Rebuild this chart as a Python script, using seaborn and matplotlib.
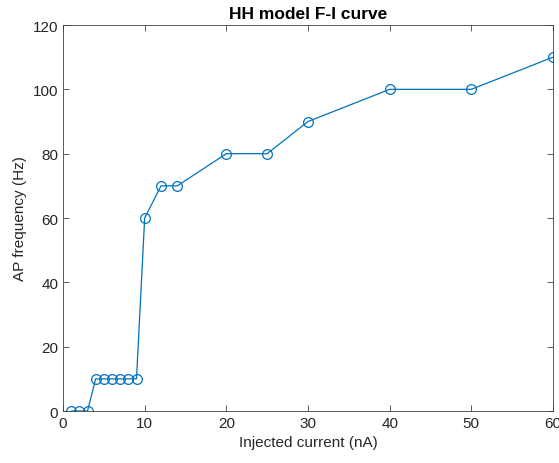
import matplotlib
matplotlib.use("Agg")
import matplotlib.pyplot as plt
import seaborn as sns
import pandas as pd

current_nA = [1, 2, 3, 4, 5, 6, 7, 8, 9, 10, 12, 14, 20, 25, 30, 40, 50, 60]
freq_Hz = [0, 0, 0, 10, 10, 10, 10, 10, 10, 60, 70, 70, 80, 80, 90, 100, 100, 110]
xticks = [0, 10, 20, 30, 40, 50, 60]
yticks = [0, 20, 40, 60, 80, 100, 120]

sns.set_style("white")
plt.rcParams['font.family'] = ['Liberation Sans', 'DejaVu Sans']

df = pd.DataFrame({"I": current_nA, "F": freq_Hz})
fig = plt.figure(figsize=(5.59, 4.64), dpi=100)
ax = fig.add_axes([63/559, 1-412/464, (553-63)/559, (412-26)/464])
color = (0.0, 0.447, 0.741)
sns.lineplot(data=df, x="I", y="F", ax=ax, color=color, linewidth=0.9,
             marker="o", markersize=7, markerfacecolor="none",
             markeredgecolor=color, markeredgewidth=0.9)
ax.set_xlim(0, 60)
ax.set_ylim(0, 120)
ax.set_xticks(xticks)
ax.set_yticks(yticks)
ax.tick_params(direction="in", length=4, width=0.6, colors="#404040",
               labelsize=11, top=True, right=True, bottom=True, left=True,
               labelcolor="#262626")
for s in ax.spines.values():
    s.set_color("#404040")
    s.set_linewidth(0.6)
ax.set_xlabel("Injected current (nA)", fontsize=11, color="#262626")
ax.set_ylabel("AP frequency (Hz)", fontsize=11, color="#262626")
ax.set_title("HH model F-I curve", fontsize=12.5, fontweight="bold", color="black", pad=5)
fig.savefig("out.png", dpi=100)
